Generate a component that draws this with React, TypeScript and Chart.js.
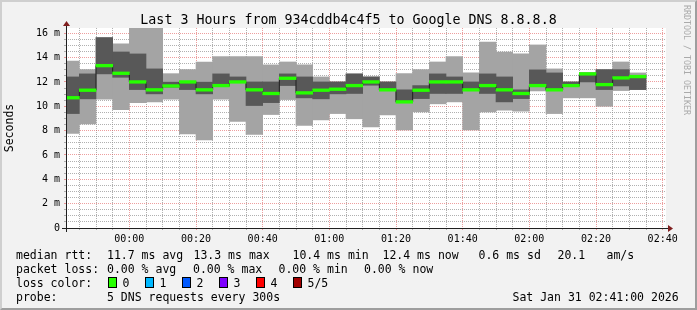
import React, { useEffect, useRef } from 'react';
import { Chart, registerables } from 'chart.js';

Chart.register(...registerables);

const MONO = "'DejaVu Sans Mono', monospace";

const TITLE = 'Last 3 Hours from 934cddb4c4f5 to Google DNS 8.8.8.8';
const Y_TITLE = 'Seconds';
const WATERMARK = 'RRDTOOL / TOBI OETIKER';

// 5-minute bins (bin start times)
const binTimes = [
  '23:40', '23:45', '23:50', '23:55', '00:00', '00:05', '00:10', '00:15', '00:20', '00:25',
  '00:30', '00:35', '00:40', '00:45', '00:50', '00:55', '01:00', '01:05', '01:10', '01:15',
  '01:20', '01:25', '01:30', '01:35', '01:40', '01:45', '01:50', '01:55', '02:00', '02:05',
  '02:10', '02:15', '02:20', '02:25', '02:30',
];
// sorted pings, ms
const pingMin = [
  7.76, 8.56, 10.58, 9.73, 10.30, 10.36, 10.58, 7.73, 7.24, 10.58,
  8.75, 7.68, 9.32, 10.55, 8.42, 8.88, 9.40, 8.97, 8.31, 9.29,
  8.06, 9.54, 10.20, 10.36, 8.06, 9.54, 9.68, 9.60, 11.26, 9.40,
  10.69, 10.69, 10.00, 11.29, 11.37,
];
const pingLow = [
  9.40, 10.61, 12.66, 12.38, 11.37, 11.02, 11.57, 11.37, 11.02, 11.62,
  11.95, 10.06, 10.30, 11.70, 10.69, 10.61, 11.02, 11.05, 11.73, 11.30,
  10.32, 10.63, 11.05, 11.05, 11.30, 11.05, 10.36, 10.63, 11.62, 11.30,
  11.65, 12.00, 11.37, 11.67, 11.37,
];
const pingMedian = [
  10.70, 11.32, 13.34, 12.71, 12.00, 11.35, 11.67, 12.00, 11.35, 11.70,
  12.00, 11.35, 11.05, 12.30, 11.10, 11.32, 11.40, 11.70, 12.00, 11.35,
  10.36, 11.32, 12.00, 12.00, 11.35, 11.70, 11.35, 11.05, 11.70, 11.35,
  11.70, 12.66, 11.78, 12.33, 12.44,
];
const pingHigh = [
  12.41, 12.66, 15.64, 14.46, 14.30, 13.07, 11.98, 12.02, 11.98, 12.66,
  12.41, 12.00, 12.00, 12.66, 12.41, 12.00, 12.00, 12.66, 12.41, 12.00,
  11.35, 11.70, 12.66, 12.41, 12.00, 12.66, 12.41, 11.35, 12.99, 12.74,
  12.00, 12.74, 13.01, 13.01, 12.52,
];
const pingMax = [
  13.72, 13.01, 15.64, 15.12, 16.80, 16.80, 12.68, 13.01, 13.64, 14.08,
  14.08, 14.08, 13.40, 13.64, 13.40, 12.41, 12.00, 12.66, 12.41, 12.00,
  12.68, 13.01, 13.64, 14.08, 12.74, 15.28, 14.46, 14.30, 15.04, 13.07,
  12.00, 12.74, 13.01, 13.64, 12.74,
];

const binMinutes = 5;
const xStart = '23:41';
const xEnd = '02:41';
const xTickLabels = ['00:00', '00:20', '00:40', '01:00', '01:20', '01:40', '02:00', '02:20', '02:40'];
const xMajorEvery = 20;

const yMax = 16.43;
const yTickValues = [0, 2, 4, 6, 8, 10, 12, 14, 16];
const yTickLabels = ['0', '2 m', '4 m', '6 m', '8 m', '10 m', '12 m', '14 m', '16 m'];
const yMinorStep = 0.5;

// legend
const rttLabel = 'median rtt:';
const rttStats = ['11.7 ms avg', '13.3 ms max', '10.4 ms min', '12.4 ms now', '0.6 ms sd', '20.1', 'am/s'];
const lossLabel = 'packet loss:';
const lossStats = ['0.00 % avg', '0.00 % max', '0.00 % min', '0.00 % now'];
const lossColorLabel = 'loss color:';
const lossLabels = ['0', '1', '2', '3', '4', '5/5'];
const lossColors = ['#26ff00', '#00b8ff', '#0059ff', '#7e00ff', '#ff0000', '#a10000'];
const probeLabel = 'probe:';
const probeText = '5 DNS requests every 300s';
const dateText = 'Sat Jan 31 02:41:00 2026';

// layout (pixels)
const W = 697;
const H = 310;
const rttX = [107, 193.5, 292.5, 382.5, 478.5, 557.5, 606.5];
const lossX = [107, 193, 278.5, 364];
const boxX = [108, 145, 182, 219, 256, 293];
const lineTops = [247.5, 261.5, 275.5, 289.5];

const toMin = (t: string) => {
  const [h, m] = t.split(':').map(Number);
  return (h >= 12 ? h - 24 : h) * 60 + m;
};

const SMOKE_LIGHT = '#a4a4a4';
const SMOKE_DARK = '#585858';
const MEDIAN_LINE = '#202020';
const GRID = 'rgba(143,143,143,0.7)';
const MGRID = 'rgba(222,79,79,0.55)';
const AXIS = '#1f1f1f';
const ARROW = 'rgb(128,31,31)';
const MEDIAN_HALF = 0.11;

const rrdPlugin = {
  id: 'rrdFrame',
  beforeDraw(chart: any) {
    const { ctx, chartArea } = chart;
    const { left, top, right, bottom } = chartArea;
    ctx.save();
    ctx.fillStyle = '#ffffff';
    ctx.fillRect(left, top, right - left, bottom - top);
    ctx.restore();
  },
  afterDraw(chart: any) {
    const { ctx, chartArea } = chart;
    const { left, top, right, bottom } = chartArea;
    ctx.save();
    ctx.strokeStyle = AXIS;
    ctx.lineWidth = 1;
    ctx.beginPath();
    ctx.moveTo(left - 4, bottom + 0.5);
    ctx.lineTo(right + 4, bottom + 0.5);
    ctx.moveTo(left + 0.5, bottom + 4);
    ctx.lineTo(left + 0.5, top - 4);
    ctx.stroke();
    ctx.fillStyle = ARROW;
    ctx.beginPath();
    ctx.moveTo(right + 2, bottom - 3);
    ctx.lineTo(right + 2, bottom + 4);
    ctx.lineTo(right + 7, bottom + 0.5);
    ctx.closePath();
    ctx.fill();
    ctx.beginPath();
    ctx.moveTo(left - 3, top - 2);
    ctx.lineTo(left + 4, top - 2);
    ctx.lineTo(left + 0.5, top - 7);
    ctx.closePath();
    ctx.fill();
    ctx.restore();
  },
};

export default function App() {
  const ref = useRef<HTMLCanvasElement>(null);

  useEffect(() => {
    document.body.style.margin = '0';
    const canvas = ref.current!;
    const starts = binTimes.map(toMin);
    const centers = starts.map((m) => m + binMinutes / 2);
    const xMin = toMin(xStart);
    const xMax = toMin(xEnd);
    const xLabelMap = new Map(xTickLabels.map((l) => [toMin(l), l]));
    const yLabelMap = new Map(yTickValues.map((v, i) => [v, yTickLabels[i]]));

    const floating = (lo: number[], hi: number[], color: string, order: number) => ({
      type: 'bar',
      data: centers.map((x, i) => ({ x, y: [lo[i], hi[i]] })),
      backgroundColor: color,
      borderWidth: 0,
      grouped: false,
      barPercentage: 1,
      categoryPercentage: 1,
      order,
    });

    const stepPoints = starts.map((x, i) => ({ x, y: pingMedian[i] }));
    stepPoints.push({ x: starts[starts.length - 1] + binMinutes, y: pingMedian[pingMedian.length - 1] });

    const xGridColor = (c: any) =>
      c.tick && Math.round(c.tick.value) % xMajorEvery === 0 ? MGRID : GRID;
    const yGridColor = (c: any) =>
      c.tick && yLabelMap.has(c.tick.value) ? MGRID : GRID;

    const chart = new Chart(canvas, {
      type: 'bar',
      data: {
        datasets: [
          floating(pingMin, pingMax, SMOKE_LIGHT, 4),
          floating(pingLow, pingHigh, SMOKE_DARK, 3),
          {
            type: 'line',
            data: stepPoints,
            stepped: true,
            borderColor: MEDIAN_LINE,
            borderWidth: 1,
            pointRadius: 0,
            fill: false,
            order: 2,
          },
          floating(
            pingMedian.map((v) => v - MEDIAN_HALF),
            pingMedian.map((v) => v + MEDIAN_HALF),
            lossColors[0],
            1
          ),
        ] as any,
      },
      options: {
        animation: false,
        responsive: false,
        devicePixelRatio: 1,
        layout: { padding: { left: 0, top: 28, right: W - 666, bottom: H - 228 - 20 } },
        plugins: {
          legend: { display: false },
          title: { display: false },
          tooltip: { enabled: false },
        },
        scales: {
          x: {
            type: 'linear',
            min: xMin,
            max: xMax,
            offset: false,
            afterFit: (s: any) => {
              s.height = 20;
            },
            afterBuildTicks: (s: any) => {
              const t: any[] = [];
              const first = Math.ceil(xMin / binMinutes) * binMinutes;
              for (let v = first; v < xMax; v += binMinutes) t.push({ value: v });
              s.ticks = t;
            },
            grid: {
              offset: false,
              color: xGridColor,
              tickColor: xGridColor,
              tickLength: 2,
              lineWidth: 1,
            },
            border: { display: false, dash: [1, 1] },
            ticks: {
              autoSkip: false,
              maxRotation: 0,
              minRotation: 0,
              padding: 3,
              color: '#000',
              font: { family: MONO, size: 10 },
              callback: (v: any) => xLabelMap.get(Math.round(Number(v))) ?? '',
            },
          },
          y: {
            type: 'linear',
            min: 0,
            max: yMax,
            afterFit: (s: any) => {
              s.width = 66;
            },
            afterBuildTicks: (s: any) => {
              const t: any[] = [];
              for (let v = 0; v <= yTickValues[yTickValues.length - 1]; v += yMinorStep) t.push({ value: v });
              s.ticks = t;
            },
            grid: {
              color: yGridColor,
              tickColor: yGridColor,
              tickLength: 2,
              lineWidth: 1,
            },
            border: { display: false, dash: [1, 1] },
            title: {
              display: true,
              text: Y_TITLE,
              color: '#000',
              font: { family: MONO, size: 11.5 },
              padding: { top: 3.5, bottom: 0 },
            },
            ticks: {
              autoSkip: false,
              padding: 4,
              color: '#000',
              font: { family: MONO, size: 10 },
              callback: (v: any) => yLabelMap.get(Number(v)) ?? '',
            },
          },
        },
      },
      plugins: [rrdPlugin],
    } as any);

    return () => chart.destroy();
  }, []);

  const text = (left: number, top: number, s: string, key: string) => (
    <div
      key={key}
      style={{
        position: 'absolute',
        left,
        top,
        whiteSpace: 'pre',
        fontFamily: MONO,
        fontSize: 11.5,
        lineHeight: '14px',
        color: '#000',
      }}
    >
      {s}
    </div>
  );

  return (
    <div style={{ position: 'relative', width: W, height: H, background: '#f2f2f2', overflow: 'hidden' }}>
      <canvas ref={ref} width={W} height={H} style={{ position: 'absolute', left: 0, top: 0, width: W, height: H }} />
      <div
        style={{
          position: 'absolute',
          left: 0,
          top: 11.5,
          width: W,
          textAlign: 'center',
          fontFamily: MONO,
          fontSize: 13.3,
          lineHeight: '16px',
          color: '#000',
          whiteSpace: 'pre',
        }}
      >
        {TITLE}
      </div>
      <div
        style={{
          position: 'absolute',
          left: 681.5,
          top: 5,
          writingMode: 'vertical-rl',
          fontFamily: MONO,
          fontSize: 8.3,
          lineHeight: '10px',
          color: '#aaaaaa',
          whiteSpace: 'pre',
        }}
      >
        {WATERMARK}
      </div>
      {text(16, lineTops[0], rttLabel, 'rl')}
      {rttStats.map((s, i) => text(rttX[i], lineTops[0], s, 'r' + i))}
      {text(16, lineTops[1], lossLabel, 'll')}
      {lossStats.map((s, i) => text(lossX[i], lineTops[1], s, 'l' + i))}
      {text(16, lineTops[2], lossColorLabel, 'cl')}
      {lossColors.map((c, i) => (
        <div
          key={'b' + i}
          style={{
            position: 'absolute',
            left: boxX[i],
            top: lineTops[2] + 1,
            width: 9,
            height: 11,
            boxSizing: 'border-box',
            border: '1px solid #000',
            background: c,
          }}
        />
      ))}
      {lossLabels.map((s, i) => text(boxX[i] + 14.5, lineTops[2], s, 'c' + i))}
      {text(16, lineTops[3], probeLabel, 'pl')}
      {text(107, lineTops[3], probeText, 'pt')}
      {text(512.5, lineTops[3], dateText, 'dt')}
      <div
        style={{
          position: 'absolute',
          left: 0,
          top: 0,
          width: W,
          height: H,
          boxSizing: 'border-box',
          borderTop: '2px solid #cfcfcf',
          borderLeft: '2px solid #cfcfcf',
          borderRight: '2px solid #9e9e9e',
          borderBottom: '2px solid #9e9e9e',
          pointerEvents: 'none',
        }}
      />
    </div>
  );
}
